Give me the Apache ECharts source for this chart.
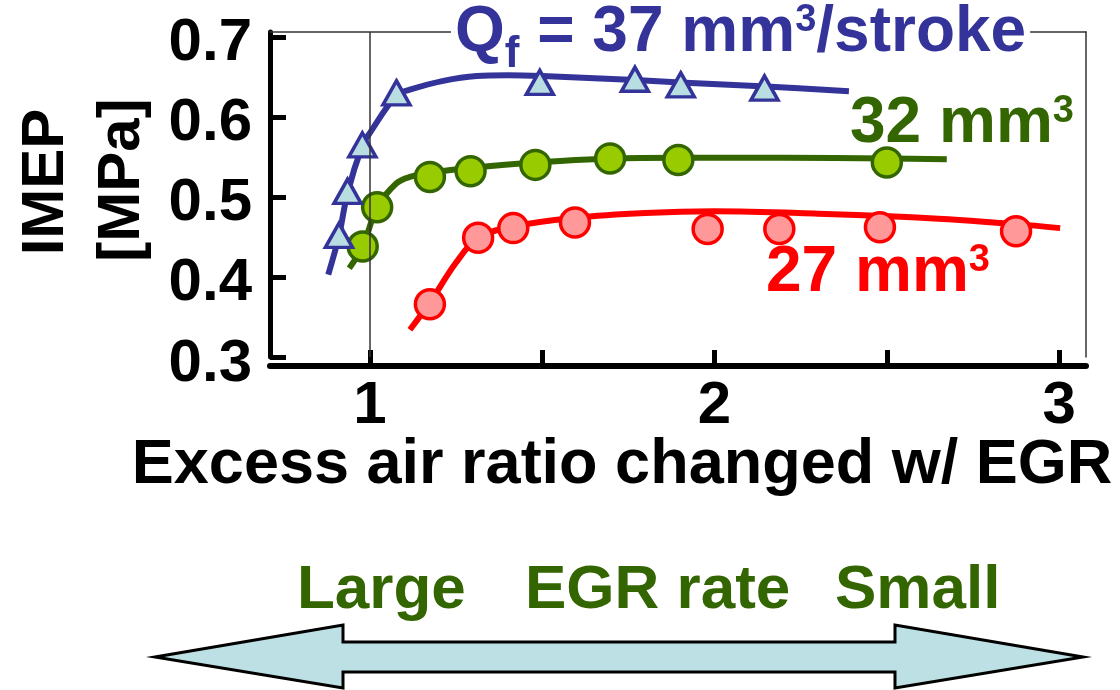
<!DOCTYPE html>
<html><head><meta charset="utf-8">
<script src="https://cdn.jsdelivr.net/npm/echarts@6/dist/echarts.min.js"></script>
<style>html,body{margin:0;padding:0;background:#fff}#c{width:1120px;height:690px}</style>
</head><body><div id="c"></div>
<script>
// ---- data ----
const xTickValues = [1, 1.5, 2, 2.5, 3];
const xLabelValues = [1, 2, 3];
const yTickValues = [0.3, 0.4, 0.5, 0.6, 0.7];

// Qf = 37 mm3/stroke (triangles)
const q37X = [0.910, 0.935, 0.978, 1.077, 1.493, 1.769, 1.902, 2.145];
const q37Y = [0.452, 0.507, 0.565, 0.630, 0.643, 0.647, 0.640, 0.636];
const q37FitX = [0.879, 0.910, 0.935, 0.978, 1.000, 1.077, 1.116, 1.213, 1.310, 1.400, 1.500, 1.770, 1.900, 2.150, 2.390];
const q37FitY = [0.403, 0.451, 0.505, 0.564, 0.580, 0.627, 0.634, 0.645, 0.651, 0.652, 0.651, 0.646, 0.643, 0.638, 0.632];

// 32 mm3 (green circles)
const q32X = [0.979, 1.021, 1.174, 1.292, 1.480, 1.697, 1.895, 2.500];
const q32Y = [0.438, 0.487, 0.525, 0.532, 0.540, 0.548, 0.546, 0.543];
const q32FitX = [0.940, 0.979, 1.021, 1.077, 1.116, 1.174, 1.290, 1.480, 1.700, 1.900, 2.200, 2.500, 2.674];
const q32FitY = [0.411, 0.438, 0.487, 0.517, 0.525, 0.530, 0.536, 0.543, 0.548, 0.549, 0.549, 0.548, 0.547];

// 27 mm3 (red circles)
const q27X = [1.174, 1.314, 1.416, 1.595, 1.980, 2.188, 2.480, 2.875];
const q27Y = [0.366, 0.449, 0.461, 0.468, 0.460, 0.460, 0.462, 0.457];
const q27FitX = [1.116, 1.174, 1.250, 1.314, 1.416, 1.595, 1.800, 2.000, 2.300, 2.600, 2.875, 3.003];
const q27FitY = [0.334, 0.368, 0.418, 0.449, 0.463, 0.474, 0.480, 0.482, 0.479, 0.474, 0.466, 0.461];

const xMin = 0.71, xMax = 3.078, yMin = 0.3, yMax = 0.706;

// ---- styles ----
const FONT = '"Liberation Sans", Arial, Helvetica, sans-serif';
const BLUE = '#333399', BLUE_FILL = '#B9DEE2';
const GREEN = '#336600', GREEN_FILL = '#99CC00';
const RED = '#FF0000', RED_FILL = '#FF9999';
const pairs = (xs, ys) => xs.map((x, i) => [x, ys[i]]);

const chart = echarts.init(document.getElementById('c'), null, {renderer: 'canvas'});

const bigFont = {fontFamily: FONT, fontWeight: 'bold', fontSize: 60, color: '#000'};

function richLabel(main, color, x, y, sub) {
  const parts = sub ? '{a|Q}{s|f}{a| = 37 mm}{p|3}{a|/stroke}' : '{a|' + main + '}{p|3}';
  return {type: 'text', x: x, y: y, z: 100,
    style: {
      text: parts, fontFamily: FONT, fontWeight: 'bold', fill: color, align: 'left', verticalAlign: 'middle',
      backgroundColor: sub ? '#fff' : null, padding: sub ? [0, 4, 0, 4] : 0,
      rich: {
        a: {fontFamily: FONT, fontWeight: 'bold', fontSize: 64, lineHeight: 62, fill: color},
        s: {fontFamily: FONT, fontWeight: 'bold', fontSize: 44, height: 2, lineHeight: 2, padding: [52, 0, 0, 0], verticalAlign: 'top', fill: color},
        p: {fontFamily: FONT, fontWeight: 'bold', fontSize: 38, lineHeight: 44, verticalAlign: 'top', fill: color}
      }
    }};
}

chart.setOption({
  animation: false,
  backgroundColor: '#fff',
  grid: {left: 270, right: 34, top: 32, bottom: 333, containLabel: false},
  xAxis: [{
    type: 'value', min: xMin, max: xMax, position: 'bottom', offset: 9,
    axisLine: {show: true, onZero: false, lineStyle: {color: '#000', width: 6}},
    axisTick: {show: true, inside: true, length: 16, customValues: xTickValues, lineStyle: {color: '#000', width: 5}},
    axisLabel: Object.assign({show: true, margin: 10, customValues: xLabelValues, formatter: v => String(Math.round(v))}, bigFont),
    splitLine: {show: false}
  }, {
    type: 'value', min: xMin, max: xMax, position: 'top',
    axisLine: {show: true, onZero: false, lineStyle: {color: '#333', width: 1.5}},
    axisTick: {show: false}, axisLabel: {show: false}, splitLine: {show: false}
  }],
  yAxis: [{
    type: 'value', min: yMin, max: yMax, position: 'left',
    axisLine: {show: true, onZero: false, lineStyle: {color: '#000', width: 5}},
    axisTick: {show: true, inside: true, length: 16, customValues: yTickValues, lineStyle: {color: '#000', width: 5}},
    axisLabel: Object.assign({show: true, margin: 18, verticalAlign: 'top', lineHeight: 14, customValues: yTickValues, formatter: v => v.toFixed(1)}, bigFont),
    splitLine: {show: false}
  }, {
    type: 'value', min: yMin, max: yMax, position: 'right',
    axisLine: {show: true, onZero: false, lineStyle: {color: '#333', width: 1.5}},
    axisTick: {show: false}, axisLabel: {show: false}, splitLine: {show: false}
  }],
  series: [
    {
      type: 'line', name: 'guide', data: [], silent: true,
      markLine: {
        silent: true, symbol: 'none', label: {show: false},
        lineStyle: {color: '#333', width: 1.5, type: 'solid'},
        data: [{xAxis: 1}]
      }
    },
    {type: 'line', name: '27 fit', data: pairs(q27FitX, q27FitY), smooth: 0.35, showSymbol: false, symbol: 'none',
      lineStyle: {color: RED, width: 6}, z: 2},
    {type: 'line', name: '32 fit', data: pairs(q32FitX, q32FitY), smooth: 0.35, showSymbol: false, symbol: 'none',
      lineStyle: {color: GREEN, width: 6}, z: 2},
    {type: 'line', name: '37 fit', data: pairs(q37FitX, q37FitY), smooth: 0.35, showSymbol: false, symbol: 'none',
      lineStyle: {color: BLUE, width: 6}, z: 2},
    {type: 'scatter', name: '27', data: pairs(q27X, q27Y), symbol: 'circle', symbolSize: 29,
      itemStyle: {color: RED_FILL, borderColor: RED, borderWidth: 3.5, opacity: 1}, z: 3},
    {type: 'scatter', name: '32', data: pairs(q32X, q32Y), symbol: 'circle', symbolSize: 29,
      itemStyle: {color: GREEN_FILL, borderColor: GREEN, borderWidth: 3.5, opacity: 1}, z: 3},
    {type: 'scatter', name: '37', data: pairs(q37X, q37Y), symbol: 'triangle', symbolSize: [27, 24],
      itemStyle: {color: BLUE_FILL, borderColor: BLUE, borderWidth: 3.5, opacity: 1}, z: 3}
  ],
  graphic: [
    {type: 'text', x: 46, y: 182, rotation: Math.PI / 2, z: 100,
      style: {text: 'IMEP', fontFamily: FONT, fontWeight: 'bold', fontSize: 60, fill: '#000', align: 'center', verticalAlign: 'middle'}},
    {type: 'text', x: 122, y: 180, rotation: Math.PI / 2, z: 100,
      style: {text: '[MPa]', fontFamily: FONT, fontWeight: 'bold', fontSize: 60, fill: '#000', align: 'center', verticalAlign: 'middle'}},
    {type: 'text', x: 622, y: 466, z: 100,
      style: {text: 'Excess air ratio changed w/ EGR', fontFamily: FONT, fontWeight: 'bold', fontSize: 63, fill: '#000', align: 'center', verticalAlign: 'middle'}},
    richLabel('', BLUE, 451, 33, true),
    richLabel('32 mm', GREEN, 850, 124, false),
    richLabel('27 mm', RED, 766, 273, false),
    {type: 'text', x: 297, y: 591, z: 100,
      style: {text: 'Large', fontFamily: FONT, fontWeight: 'bold', fontSize: 62, fill: GREEN, align: 'left', verticalAlign: 'middle'}},
    {type: 'text', x: 525, y: 591, z: 100,
      style: {text: 'EGR rate', fontFamily: FONT, fontWeight: 'bold', fontSize: 62, fill: GREEN, align: 'left', verticalAlign: 'middle'}},
    {type: 'text', x: 835, y: 591, z: 100,
      style: {text: 'Small', fontFamily: FONT, fontWeight: 'bold', fontSize: 62, fill: GREEN, align: 'left', verticalAlign: 'middle'}},
    {type: 'polygon', z: 90,
      shape: {points: [[155, 657], [343, 625], [343, 642], [895, 642], [895, 625], [1083, 657], [895, 688], [895, 672], [343, 672], [343, 688]]},
      style: {fill: '#BCE0E3', stroke: '#000', lineWidth: 3, lineJoin: 'miter'}}
  ]
});
</script>
</body></html>
